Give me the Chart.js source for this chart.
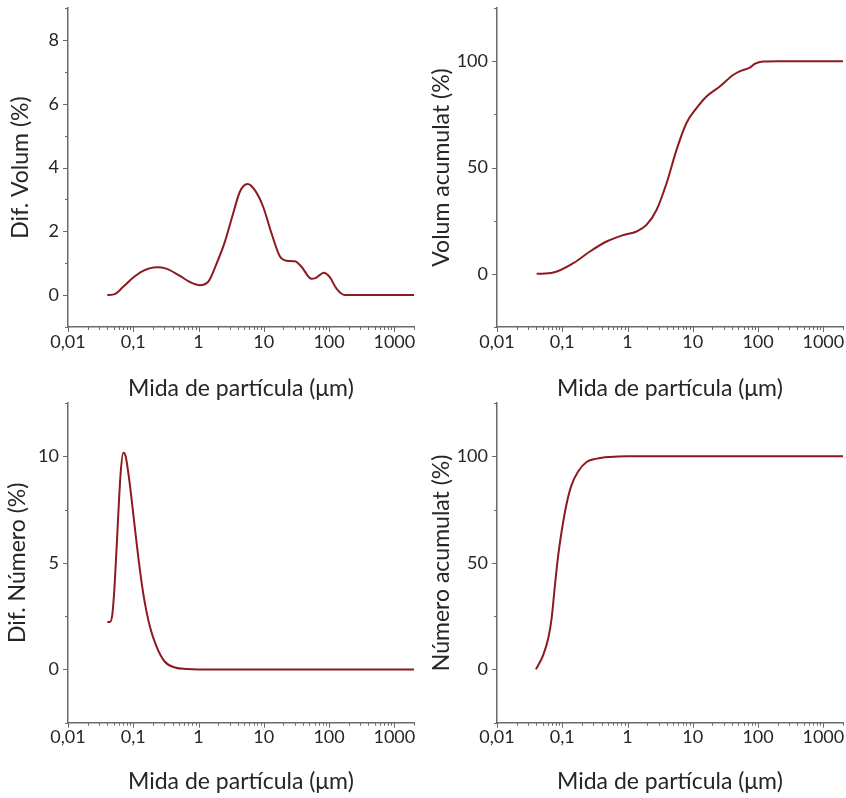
<!DOCTYPE html>
<html>
<head>
<meta charset="utf-8">
<script src="https://cdn.jsdelivr.net/npm/chart.js@4"></script>
<style>
  body { margin: 0; background: #fff; }
  canvas { position: absolute; }
</style>
</head>
<body>
<canvas id="c1" width="423" height="402" style="left:0;top:0"></canvas>
<canvas id="c2" width="423" height="402" style="left:423px;top:0"></canvas>
<canvas id="c3" width="423" height="398" style="left:0;top:400px"></canvas>
<canvas id="c4" width="423" height="398" style="left:423px;top:400px"></canvas>
<script>
// particle size (µm) and values
const volDifX = [0.04, 0.052, 0.07, 0.1, 0.142, 0.228, 0.32, 0.52, 0.74, 1.05, 1.41, 1.89, 2.53, 3.39, 4.3, 5.63, 7.28, 9.77, 13.1, 17.6, 22.3, 29.9, 37.8, 53.7, 64, 82.8, 102, 130, 174, 250, 500, 1000, 2000];
const volDifY = [0, 0.03, 0.26, 0.55, 0.76, 0.87, 0.83, 0.6, 0.41, 0.31, 0.42, 0.99, 1.67, 2.56, 3.24, 3.48, 3.29, 2.77, 1.94, 1.22, 1.08, 1.06, 0.89, 0.51, 0.55, 0.7, 0.57, 0.2, 0, 0, 0, 0, 0];

const volCumX = [0.0405, 0.073, 0.147, 0.265, 0.477, 0.86, 1.37, 1.95, 2.78, 3.96, 5.63, 8.0, 11.4, 16.2, 25.9, 41.4, 52, 74.6, 90, 119, 200, 500, 1000, 2000];
const volCumY = [0, 0.6, 5.0, 10.5, 15.2, 18.2, 19.9, 23, 30, 42.6, 58.3, 70.9, 77.9, 83.4, 88.1, 93.5, 95.2, 97, 98.8, 99.8, 100, 100, 100, 100];

const numDifX = [0.04, 0.044, 0.048, 0.052, 0.059, 0.064, 0.0703, 0.0764, 0.0867, 0.1, 0.119, 0.142, 0.18, 0.228, 0.305, 0.435, 0.656, 1, 10, 100, 2000];
const numDifY = [2.23, 2.23, 2.63, 4.04, 7.3, 9.2, 10.17, 10.0, 8.9, 7.3, 5.3, 3.57, 2.0, 1.06, 0.36, 0.09, 0.02, 0, 0, 0, 0];

const numCumX = [0.0395, 0.051, 0.061, 0.0687, 0.0773, 0.0868, 0.0977, 0.117, 0.139, 0.175, 0.236, 0.336, 0.537, 1, 10, 100, 2000];
const numCumY = [0, 6.7, 14.6, 24, 39.6, 53.7, 64.7, 78, 86.6, 92.9, 97.3, 98.9, 99.7, 100, 100, 100, 100];

const xTitle = 'Mida de partícula (μm)';
const lineColor = '#8c1a1f';
const axisColor = '#6a6a6a';
const textColor = '#262626';

// log ticks 0.01 ... 2000 (1..9 per decade)
const xTickValues = [];
for (let e = -2; e <= 3; e++) {
  for (let m = 1; m <= 9; m++) {
    const v = Number((m * Math.pow(10, e)).toPrecision(3));
    if (v <= 2000) xTickValues.push(v);
  }
}

const isPow10 = (v) => Math.abs(Math.log10(v) - Math.round(Math.log10(v))) < 1e-9;

// short outward tick marks, majors longer than minors
const tickMarks = {
  id: 'tickMarks',
  afterDraw(chart) {
    const ctx = chart.ctx;
    const xs = chart.scales.x, ys = chart.scales.y;
    const area = chart.chartArea;
    ctx.save();
    ctx.strokeStyle = axisColor;
    ctx.lineWidth = 1;
    xs.ticks.forEach(t => {
      const px = Math.round(xs.getPixelForValue(t.value)) + 0.5;
      const len = t.label !== '' ? 5 : 3;
      ctx.beginPath();
      ctx.moveTo(px, area.bottom);
      ctx.lineTo(px, area.bottom + len);
      ctx.stroke();
    });
    ys.ticks.forEach(t => {
      const py = Math.round(ys.getPixelForValue(t.value)) + 0.5;
      const len = t.label !== '' ? 5 : 3;
      ctx.beginPath();
      ctx.moveTo(area.left - len, py);
      ctx.lineTo(area.left, py);
      ctx.stroke();
    });
    ctx.restore();
  }
};

function makeChart(id, xs, ys, p) {
  const points = xs.map((x, i) => ({ x: x, y: ys[i] }));
  return new Chart(document.getElementById(id), {
    type: 'line',
    data: {
      datasets: [{
        data: points,
        borderColor: lineColor,
        borderWidth: 2,
        pointRadius: 0,
        cubicInterpolationMode: 'monotone',
        fill: false
      }]
    },
    options: {
      responsive: false,
      animation: false,
      devicePixelRatio: 1,
      layout: { padding: { top: p.top, right: p.right, left: 0, bottom: 0 } },
      plugins: { legend: { display: false }, tooltip: { enabled: false } },
      scales: {
        x: {
          type: 'logarithmic',
          min: 0.01,
          max: 2000,
          afterBuildTicks: (scale) => {
            scale.ticks = xTickValues.map(v => ({ value: v }));
          },
          afterFit: (scale) => {
            scale.height = p.xHeight;
            scale.paddingLeft = 0;
            scale.paddingRight = 0;
          },
          grid: { display: false, drawTicks: false },
          border: { display: true, color: axisColor, width: 1.5 },
          ticks: {
            autoSkip: false,
            maxRotation: 0,
            padding: 4,
            color: textColor,
            font: { family: 'Lato', size: 18 },
            callback: (v) => isPow10(v) ? String(v).replace('.', ',') : ''
          },
          title: {
            display: true,
            text: xTitle,
            color: textColor,
            font: { family: 'Lato', size: 23 },
            padding: { top: 0, bottom: p.xTitlePad }
          }
        },
        y: {
          type: 'linear',
          min: p.yMin,
          max: p.yMax,
          afterFit: (scale) => {
            scale.width = p.yWidth;
            scale.paddingTop = 0;
            scale.paddingBottom = 0;
          },
          grid: { display: false, drawTicks: false },
          border: { display: true, color: axisColor, width: 1.5 },
          ticks: {
            stepSize: p.yStep,
            padding: 9,
            color: textColor,
            font: { family: 'Lato', size: 18 },
            callback: (v) => (Math.abs(v % p.yLabelStep) < 1e-9 ? String(v) : '')
          },
          title: {
            display: true,
            text: p.yTitle,
            color: textColor,
            font: { family: 'Lato', size: 23 },
            padding: { top: p.yTitlePad, bottom: 0 }
          }
        }
      }
    },
    plugins: [tickMarks]
  });
}

makeChart('c1', volDifX, volDifY, {
  top: 8, right: 9, xHeight: 75, yWidth: 68, yTitlePad: 7.2, xTitlePad: 0,
  yMin: -1, yMax: 9, yStep: 1, yLabelStep: 2, yTitle: 'Dif. Volum (%)'
});
makeChart('c2', volCumX, volCumY, {
  top: 8, right: 3, xHeight: 75, yWidth: 74, yTitlePad: 5.2, xTitlePad: 0,
  yMin: -25, yMax: 125, yStep: 25, yLabelStep: 50, yTitle: 'Volum acumulat (%)'
});
makeChart('c3', numDifX, numDifY, {
  top: 3, right: 9, xHeight: 75.3, yWidth: 68, yTitlePad: 4.2, xTitlePad: 2.2,
  yMin: -2.5, yMax: 12.5, yStep: 2.5, yLabelStep: 5, yTitle: 'Dif. Número (%)'
});
makeChart('c4', numCumX, numCumY, {
  top: 3, right: 3, xHeight: 75.3, yWidth: 74, yTitlePad: 4.7, xTitlePad: 2.2,
  yMin: -25, yMax: 125, yStep: 25, yLabelStep: 50, yTitle: 'Número acumulat (%)'
});
</script>
</body>
</html>
